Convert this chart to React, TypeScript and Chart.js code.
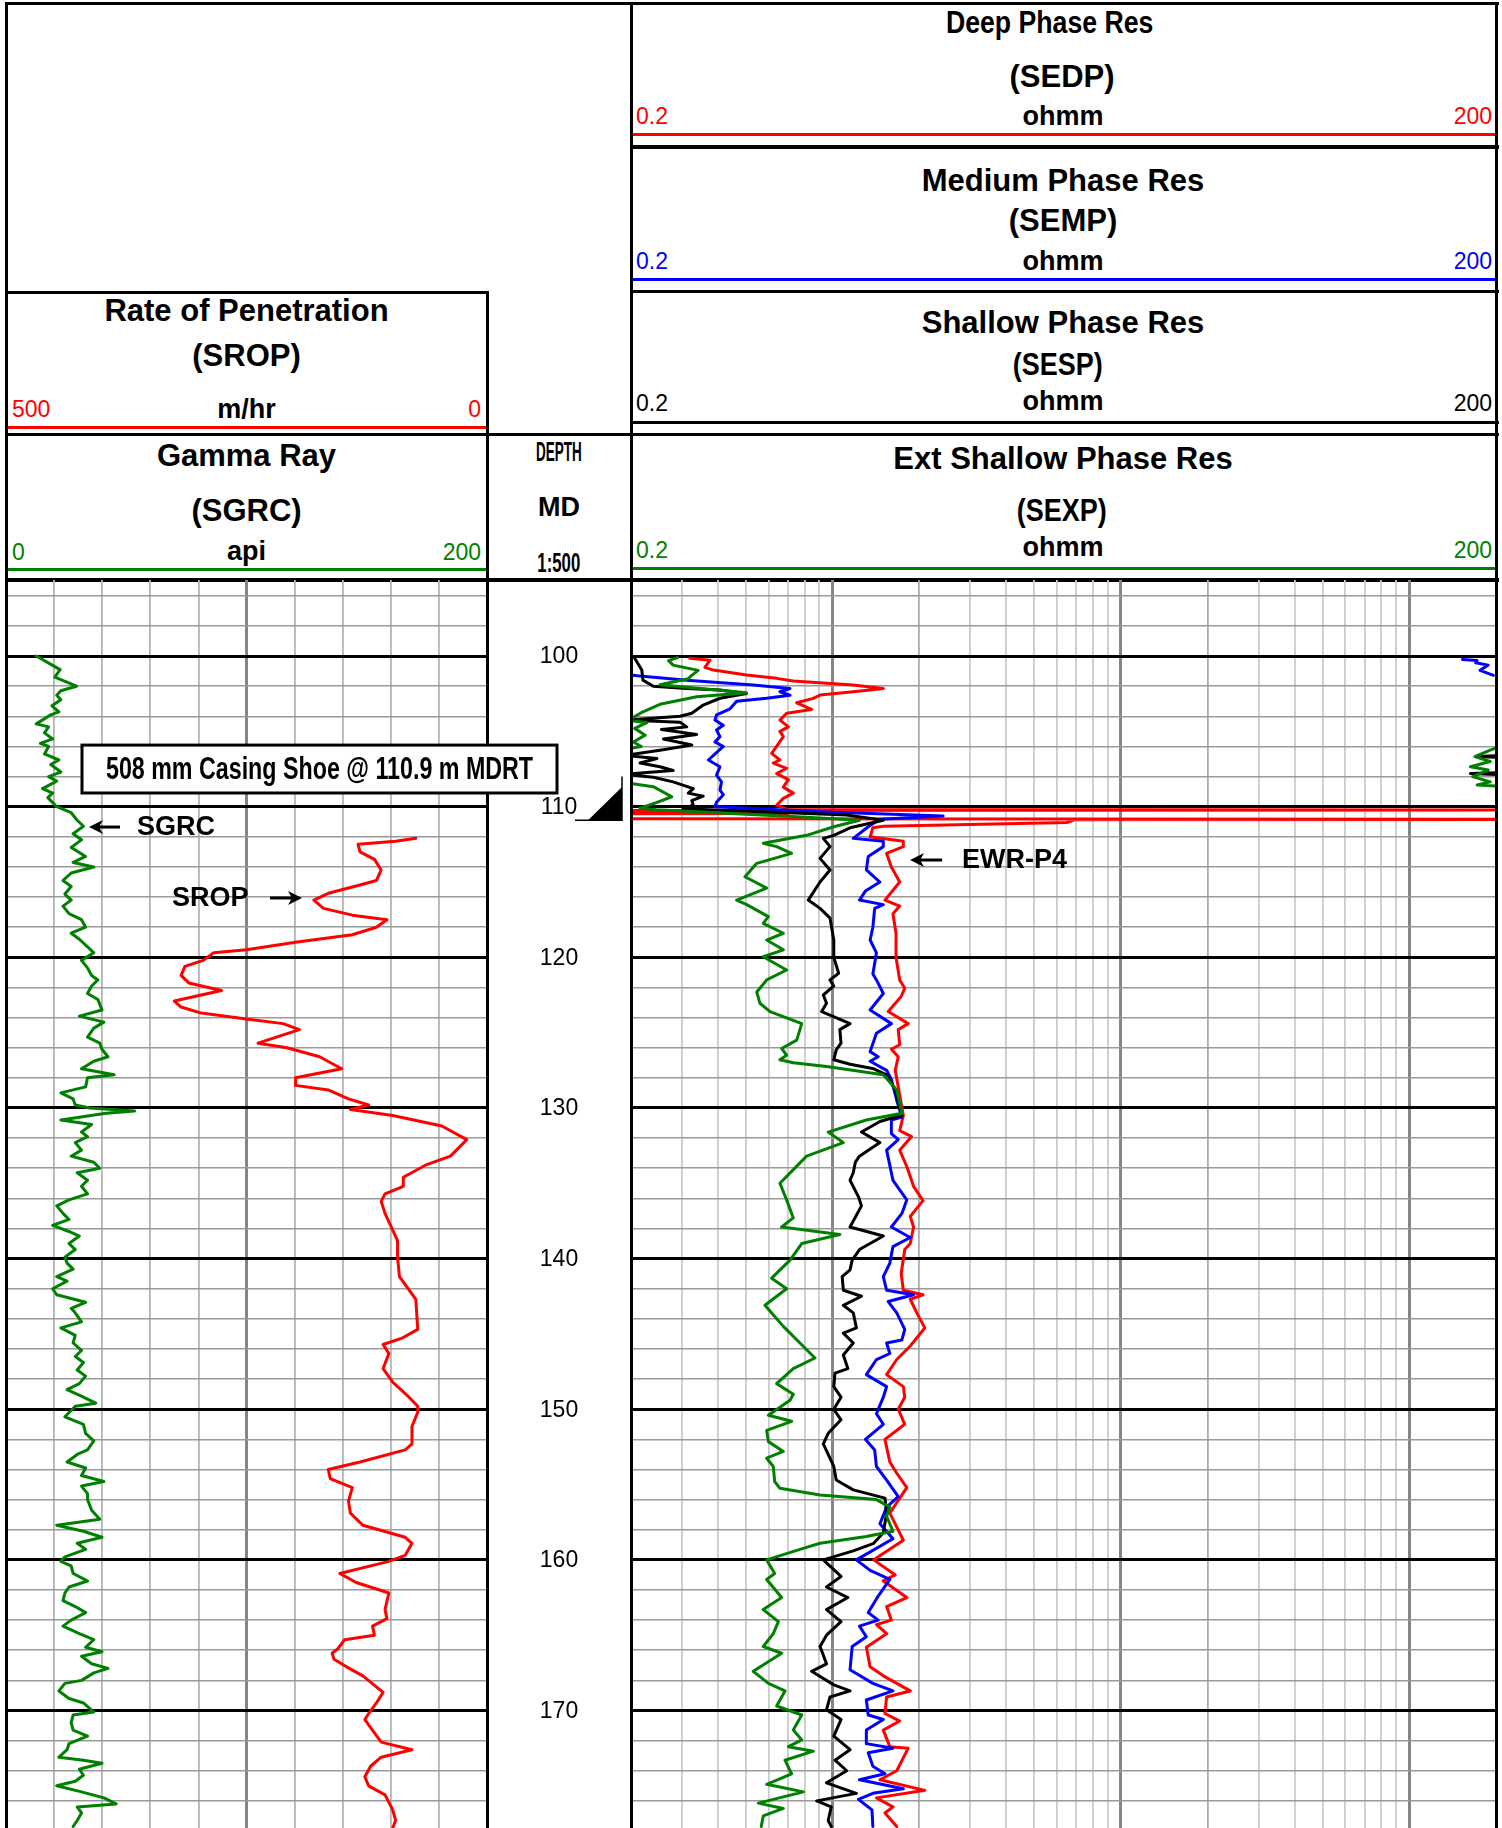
import React, { useEffect, useRef } from 'react';
import Chart from 'chart.js/auto';

const FONT = '"Liberation Sans", Arial, Helvetica, sans-serif';

type Pair = [number, number];

// ---- depth window / tick values ----
const depthTop = 94.95;
const depthBottom = 177.8;
const depthGrid = [96, 98, 100, 102, 104, 106, 108, 110, 112, 114, 116, 118, 120, 122, 124, 126, 128, 130, 132, 134, 136, 138, 140, 142, 144, 146, 148, 150, 152, 154, 156, 158, 160, 162, 164, 166, 168, 170, 172, 174, 176];
const depthLabels = [100, 110, 120, 130, 140, 150, 160, 170];
const gammaGrid = [0, 20, 40, 60, 80, 100, 120, 140, 160, 180, 200];
const resGrid = [0.2, 0.3, 0.4, 0.5, 0.6, 0.7, 0.8, 0.9, 1, 2, 3, 4, 5, 6, 7, 8, 9, 10, 20, 30, 40, 50, 60, 70, 80, 90, 100, 200];

// ---- curves: [depth m, value] ----
const gammaSGRC: Pair[] = [[100.0,12.6],[100.7,20.3],[100.9,22.5],[101.4,20.3],[102.0,29.3],[102.3,22.8],[102.6,21.1],[102.9,22.8],[103.3,19.1],[103.7,22.0],[103.9,18.6],[104.5,12.6],[104.7,17.7],[105.1,16.0],[105.5,19.4],[105.8,14.3],[106.0,17.7],[106.5,16.0],[106.9,22.0],[107.2,18.6],[107.7,22.8],[108.0,17.7],[108.3,21.1],[108.8,15.2],[109.1,19.4],[109.4,17.4],[110.0,21.1],[110.4,27.1],[110.9,29.6],[111.3,32.2],[111.8,27.9],[112.2,31.4],[112.7,27.1],[113.3,33.1],[113.7,27.9],[114.0,36.5],[114.4,27.1],[114.9,23.7],[115.3,27.1],[115.8,24.5],[116.2,27.1],[116.6,23.7],[117.1,26.2],[117.5,31.4],[118.0,33.1],[118.4,27.1],[118.8,30.5],[119.3,33.9],[119.7,36.5],[120.2,31.4],[120.7,33.9],[121.2,35.6],
[121.5,38.2],[121.9,35.6],[122.4,33.9],[122.8,38.2],[123.5,39.9],[123.9,30.5],[124.3,40.7],[124.7,36.5],[125.3,33.9],[125.7,39.0],[126.1,39.9],[126.6,42.4],[126.9,36.5],[127.4,31.4],[127.6,38.2],[127.8,45.0],[128.0,33.9],[128.6,33.1],[129.0,22.8],[129.4,27.9],[129.8,28.8],[130.0,34.8],[130.2,53.5],[130.35,41.6],[130.8,22.8],[131.1,35.6],[131.6,31.4],[131.9,33.9],[132.3,28.8],[132.8,31.4],[133.2,27.1],[133.6,36.5],[134.0,39.0],[134.3,29.6],[134.8,33.9],[135.2,31.4],[135.7,33.9],[136.1,26.2],[136.5,21.1],[137.0,23.7],[137.4,26.2],[137.8,19.4],[138.2,26.2],[138.5,30.5],[139.0,26.2],[139.4,28.8],[139.9,24.5],[140.3,25.4],[140.7,27.9],[141.2,21.1],[141.5,25.4],[142.0,19.4],[142.4,21.1],[142.9,33.1],[143.3,27.1],[143.6,28.8],[144.2,31.4],[144.6,22.8],[145.1,28.8],[145.6,27.9],[146.1,31.4],[146.5,28.8],[146.9,32.2],[147.4,29.6],[147.8,33.1],[148.3,30.5],[148.7,25.4],[149.2,32.2],[149.6,37.3],[149.8,28.8],
[150.5,24.5],[151.0,32.2],[151.6,33.1],[152.1,36.5],[152.7,33.9],[153.0,29.6],[153.5,25.4],[153.9,33.1],[154.4,31.4],[154.8,40.7],[155.1,31.4],[155.6,33.9],[156.0,33.9],[156.7,35.6],[157.3,39.0],[157.7,21.1],[158.1,32.2],[158.5,39.9],[158.9,29.6],[159.3,33.1],[159.8,24.5],[160.1,22.8],[160.4,27.1],[160.9,27.9],[161.4,33.9],[161.8,26.2],[162.2,24.5],[162.7,23.7],[163.1,28.8],[163.5,33.1],[164.0,27.1],[164.4,23.7],[164.9,30.5],[165.3,36.5],[165.8,33.1],[166.1,39.9],[166.4,31.4],[166.9,35.6],[167.2,42.4],[167.5,36.5],[168.0,31.4],[168.2,24.5],[168.7,22.0],[169.2,26.2],[169.5,32.2],[170.1,36.5],[170.3,27.9],[170.8,27.1],[171.3,27.9],[171.7,33.9],[172.2,26.2],[172.6,25.4],[173.1,22.0],[173.3,32.2],[173.5,39.9],[173.9,30.5],[174.3,32.2],[174.7,28.8],[175.0,21.1],[175.4,31.4],[175.8,40.7],[176.2,45.8],[176.4,29.6],[176.8,31.4],[177.3,29.6],[177.7,27.9]];

const ropSROP: Pair[] = [[112.1,74],[112.3,95],[112.5,134],[113.0,132],[113.5,117],[114.2,110],[114.9,115],[115.2,132],[115.75,165],[116.2,180],[116.75,170],[117.2,140],[117.5,104],[118.0,115],[118.5,140],[119.0,199],[119.5,250],[119.7,284],[120.2,295],[120.6,314],[121.2,318],[121.7,310],[122.2,276],[122.9,325],[123.3,318],[123.7,297],[124.1,250],[124.4,212],[124.8,195],[125.7,238],[126.0,208],[126.6,174],[127.4,151],[128.0,199],[128.5,199],[128.8,165],[129.4,144],[129.8,123],[130.1,142],[130.5,98],[131.2,47],[132.1,21],[133.2,38],[133.8,64],[134.6,87],[135.2,87],[135.7,106],[136.2,110],[137.0,106],[138.8,93],[139.9,93],[141.2,91],[142.7,74],[144.7,72],[145.3,89],[145.7,108],[146.3,102],[147.3,108],[148.2,98],[149.2,81],[149.8,72],[150.2,72],[151.15,78],[152.3,78],[152.7,85],[153.5,132],[154.0,165],[154.6,163],[155.2,140],[156.1,144],[156.9,142],[157.7,129],[158.5,85],[158.9,78],[159.7,85],[160.1,102],[160.9,153],[161.5,136],[162.2,102],[163.3,106],[163.9,104],[164.4,119],[165.0,117],[165.3,148],[165.9,155],[166.2,161],[166.6,159],[167.1,146],[167.7,129],[168.8,108],[169.5,115],[170.2,123],[170.6,127],[172.1,110],[172.6,78],[173.1,110],[173.7,121],[174.4,127],[175.0,123],[175.6,106],[176.6,98],[177.3,95],[177.8,98]];

const deepSEDP: Pair[] = [[100.15,0.32],[100.27,0.376],[100.75,0.361],[100.93,0.386],[101.26,0.503],[101.48,0.64],[101.66,0.731],[101.92,1.18],[102.15,1.5],[102.37,1.18],[102.59,0.905],[102.81,0.857],[103.1,0.751],[103.54,0.846],[103.8,0.693],[104.25,0.657],[104.7,0.703],[105.0,0.657],[105.35,0.675],[106.46,0.615],[106.9,0.657],[107.1,0.623],[107.45,0.693],[107.8,0.64],[108.2,0.703],[108.7,0.675],[109.1,0.731],[109.45,0.675],[109.9,0.64],[110.18,0.7],[110.22,400],[110.26,0.15],[110.43,0.15],[110.45,0.7],[110.47,0.15],[110.8,0.15],[110.84,400],[110.87,6.9],[111.05,6.5],[111.3,1.5],[111.4,1.38],[112.0,1.35],[112.3,1.76],[112.65,1.76],[113.1,1.54],[114.0,1.6],[115.0,1.71],[116.2,1.52],[116.6,1.71],[117.1,1.62],[118.4,1.66],[120.0,1.66],[121.5,1.71],[122.05,1.78],[122.6,1.73],[123.6,1.56],[124.4,1.83],[124.8,1.69],[125.8,1.71],[126.1,1.6],[126.6,1.69],[127.5,1.65],[128.6,1.69],[130.5,1.76],[131.5,1.71],[131.9,1.88],[132.8,1.71],[133.9,1.81],[135.2,1.91],[136.15,2.06],[137.2,1.86],[137.9,1.91],[139.0,1.86],[139.4,1.78],[141.0,1.73],[142.1,1.76],[142.4,2.06],[142.7,1.86],[143.6,1.96],[144.6,2.09],[145.8,1.86],[146.7,1.67],[147.7,1.54],[148.5,1.76],[149.2,1.78],[150.0,1.69],[151.0,1.78],[152.0,1.52],[153.5,1.58],[154.25,1.67],[155.2,1.81],[156.2,1.67],[156.9,1.58],[158.7,1.76],[160.0,1.39],[161.0,1.65],[161.4,1.5],[162.5,1.81],[163.1,1.54],[164.0,1.6],[164.3,1.42],[164.9,1.54],[165.8,1.31],[167.1,1.35],[167.7,1.5],[168.7,1.86],[169.1,1.54],[170.2,1.52],[170.7,1.71],[171.3,1.5],[172.4,1.58],[172.5,1.83],[174.0,1.67],[174.6,1.46],[175.3,2.09],[175.8,1.42],[176.4,1.62],[176.8,1.52],[177.7,1.67]];

const mediumSEMP: Pair[] = [[101.2,0.19],[101.3,0.21],[101.6,0.312],[101.92,0.531],[102.15,0.712],[102.37,0.657],[102.6,0.712],[102.8,0.591],[103.0,0.465],[103.5,0.441],[103.9,0.396],[104.25,0.391],[104.6,0.418],[104.9,0.396],[105.35,0.407],[105.7,0.391],[106.0,0.418],[106.9,0.371],[107.35,0.407],[107.9,0.396],[108.35,0.412],[108.9,0.407],[109.2,0.418],[109.7,0.396],[110.0,0.391],[110.33,0.905],[110.62,2.42],[110.84,1.46],[111.33,1.33],[112.1,1.18],[112.3,1.5],[112.65,1.5],[113.3,1.33],[114.2,1.31],[115.0,1.46],[115.6,1.30],[116.2,1.24],[116.5,1.5],[116.75,1.40],[118.0,1.38],[118.85,1.35],[119.7,1.42],[121.1,1.38],[121.5,1.42],[122.4,1.5],[123.5,1.35],[124.4,1.6],[125.04,1.42],[126.26,1.35],[126.6,1.44],[126.9,1.35],[127.5,1.54],[128.1,1.6],[129.5,1.67],[130.6,1.74],[130.8,1.6],[131.7,1.6],[132.1,1.69],[132.8,1.54],[134.8,1.62],[136.1,1.81],[137.0,1.74],[137.9,1.6],[138.6,1.86],[139.2,1.62],[140.3,1.58],[141.2,1.5],[142.1,1.54],[142.4,1.91],[142.85,1.56],[143.6,1.67],[144.7,1.78],[145.4,1.74],[145.6,1.54],[146.3,1.58],[146.7,1.42],[147.7,1.31],[148.5,1.54],[149.2,1.5],[150.3,1.42],[151.0,1.5],[152.0,1.30],[152.7,1.40],[153.8,1.42],[154.7,1.54],[155.8,1.69],[156.5,1.54],[157.6,1.46],[158.6,1.62],[160.0,1.21],[160.7,1.35],[161.3,1.58],[162.4,1.44],[163.5,1.33],[164.0,1.44],[164.4,1.24],[165.1,1.31],[165.75,1.17],[167.3,1.15],[168.2,1.38],[168.7,1.62],[169.3,1.31],[170.3,1.33],[170.6,1.5],[171.3,1.31],[172.2,1.31],[172.5,1.62],[172.8,1.33],[173.7,1.38],[174.2,1.52],[174.6,1.24],[175.2,1.76],[175.5,1.38],[175.9,1.23],[176.6,1.37],[177.7,1.38]];

const shallowSESP: Pair[] = [[100.15,0.206],[100.93,0.218],[101.6,0.22],[102.0,0.239],[102.15,0.312],[102.26,0.407],[102.48,0.503],[102.8,0.407],[103.25,0.356],[103.8,0.325],[104.0,0.296],[104.25,0.19],[104.4,0.296],[104.7,0.312],[104.87,0.255],[105.2,0.338],[105.5,0.259],[105.9,0.325],[106.25,0.252],[106.6,0.19],[106.8,0.246],[107.1,0.215],[107.35,0.252],[107.6,0.28],[107.85,0.19],[108.05,0.239],[108.35,0.28],[108.8,0.329],[109.1,0.316],[109.3,0.356],[109.6,0.325],[109.9,0.329],[110.13,0.303],[110.55,1.12],[110.9,1.5],[111.4,1.15],[111.9,1.01],[112.1,0.929],[112.65,0.98],[113.43,0.905],[114.2,0.98],[115.0,0.905],[116.2,0.824],[116.75,0.905],[117.4,0.98],[118.85,1.01],[120.0,1.01],[121.06,1.05],[121.5,0.98],[121.9,1.01],[122.5,0.929],[123.05,0.953],[123.6,0.917],[124.4,1.15],[124.8,1.06],[125.7,1.07],[126.15,1.03],[126.8,1.01],[127.1,1.15],[127.4,1.39],[127.8,1.54],[128.8,1.65],[130.5,1.74],[130.7,1.58],[130.9,1.46],[131.6,1.26],[132.3,1.46],[133.2,1.24],[133.6,1.2],[134.3,1.18],[134.8,1.15],[135.9,1.23],[136.5,1.26],[137.9,1.15],[138.5,1.5],[139.4,1.24],[140.1,1.17],[140.75,1.15],[141.2,1.08],[142.1,1.09],[142.5,1.26],[143.1,1.09],[143.6,1.18],[144.6,1.21],[144.95,1.09],[145.6,1.18],[146.4,1.09],[147.3,1.13],[147.6,1.02],[148.5,1.01],[149.2,1.07],[150.0,1.01],[150.7,1.07],[151.6,0.966],[152.3,0.929],[153.8,1.01],[154.7,1.03],[155.35,1.18],[155.9,1.52],[156.9,1.54],[158.2,1.5],[158.9,1.39],[159.4,1.18],[160.0,0.929],[161.1,1.07],[161.8,0.953],[162.5,1.13],[163.3,0.953],[164.1,1.07],[165.0,0.953],[165.75,0.905],[166.9,0.953],[167.4,0.846],[168.3,1.01],[168.7,1.15],[169.1,0.98],[169.95,0.953],[170.6,1.07],[171.7,1.01],[172.6,1.15],[173.3,1.02],[174.0,1.12],[174.8,0.953],[175.5,1.21],[176.0,0.881],[176.4,0.99],[177.3,0.966],[177.7,0.99]];

const extShallowSEXP: Pair[] = [[100.1,0.29],[100.3,0.27],[100.6,0.28],[100.95,0.342],[101.3,0.324],[101.5,0.316],[101.9,0.252],[102.43,0.503],[102.7,0.338],[103.2,0.252],[103.7,0.22],[104.07,0.204],[104.25,0.19],[104.42,0.227],[104.8,0.206],[105.25,0.224],[105.7,0.204],[106.0,0.217],[106.2,0.19],[108.4,0.19],[108.67,0.239],[109.34,0.277],[109.73,0.245],[110.1,0.215],[110.2,0.245],[110.7,0.813],[110.9,1.24],[111.33,1.01],[111.9,0.813],[112.43,0.575],[112.65,0.64],[113.1,0.721],[113.76,0.546],[114.65,0.497],[115.4,0.591],[116.2,0.465],[116.5,0.504],[117.3,0.599],[117.74,0.575],[118.4,0.675],[118.85,0.591],[119.5,0.675],[119.96,0.575],[120.84,0.693],[121.5,0.591],[122.3,0.546],[123.05,0.56],[123.6,0.607],[124.4,0.782],[125.5,0.751],[126.05,0.666],[126.5,0.693],[126.8,0.657],[127.0,0.731],[127.25,0.954],[127.8,1.5],[128.8,1.67],[130.35,1.74],[130.8,1.31],[131.6,0.966],[132.3,1.09],[133.2,0.813],[135.0,0.657],[136.1,0.693],[137.3,0.731],[137.9,0.666],[138.4,1.06],[139.0,0.782],[140.1,0.712],[141.3,0.615],[142.0,0.693],[143.1,0.583],[144.5,0.675],[145.6,0.771],[146.6,0.869],[147.3,0.731],[148.3,0.64],[149.0,0.731],[149.4,0.712],[150.4,0.599],[150.8,0.721],[151.4,0.591],[152.15,0.599],[152.8,0.675],[153.25,0.591],[153.8,0.623],[154.8,0.63],[155.25,0.657],[155.7,0.905],[156.0,1.42],[156.5,1.58],[157.1,1.54],[158.1,1.62],[158.45,1.31],[158.9,0.905],[159.3,0.771],[160.0,0.591],[160.9,0.63],[161.3,0.591],[162.5,0.666],[163.3,0.575],[164.1,0.649],[164.9,0.623],[165.75,0.575],[166.2,0.666],[167.4,0.531],[168.2,0.599],[168.7,0.684],[169.7,0.64],[170.3,0.782],[171.3,0.731],[171.95,0.782],[172.4,0.703],[172.7,0.858],[173.3,0.684],[174.2,0.721],[174.9,0.591],[175.4,0.792],[176.15,0.553],[176.5,0.675],[177.0,0.575],[177.7,0.566]];

// wrapped (backup-scale) segments at the right edge of the resistivity track
const mediumWrap: Pair[] = [[100.22,153],[100.3,172],[100.45,170],[100.6,188],[100.95,176],[101.28,196]];
const extShallowWrap: Pair[] = [[106.1,200],[106.24,191],[106.68,169],[107.0,191],[107.35,163],[107.57,188],[108.0,166],[108.35,191],[108.56,172],[108.62,200]];
const shallowWrap: (Pair | null)[] = [[106.62,200],[106.67,171],[106.72,200],null,[107.75,200],[107.8,163],[107.86,200]];

const toPts = (arr: (Pair | null)[]) => arr.map(p => (p ? { x: p[1], y: p[0] } : { x: null as any, y: null as any }));

const lineDs = (label: string, data: (Pair | null)[], color: string, xAxisID: string) => ({
  label, data: toPts(data), xAxisID, yAxisID: 'y', borderColor: color, backgroundColor: color,
  borderWidth: 3, showLine: true, pointRadius: 0, pointHoverRadius: 0, fill: false, tension: 0,
  borderJoinStyle: 'round' as const, borderCapStyle: 'round' as const, spanGaps: false,
});

function arrow(ctx: CanvasRenderingContext2D, tail: number, head: number, y: number) {
  const d = Math.sign(head - tail);
  ctx.save();
  ctx.strokeStyle = '#000';
  ctx.fillStyle = '#000';
  ctx.lineWidth = 3;
  ctx.beginPath();
  ctx.moveTo(tail, y);
  ctx.lineTo(head - d * 8, y);
  ctx.stroke();
  ctx.beginPath();
  ctx.moveTo(head, y);
  ctx.lineTo(head - d * 14, y - 7);
  ctx.lineTo(head - d * 10, y);
  ctx.lineTo(head - d * 14, y + 7);
  ctx.closePath();
  ctx.fill();
  ctx.restore();
}

function depthScale(extra: any) {
  return {
    type: 'linear', min: depthTop, max: depthBottom, reverse: true,
    afterBuildTicks: (s: any) => { s.ticks = depthGrid.map(v => ({ value: v })); },
    afterFit: (s: any) => { s.width = 0; },
    ticks: { display: false, autoSkip: false },
    grid: {
      drawTicks: false,
      color: (c: any) => (c.tick && c.tick.value % 10 === 0 ? '#000000' : '#9a9a9a'),
      lineWidth: (c: any) => (c.tick && c.tick.value % 10 === 0 ? 3 : 1.6),
    },
    border: { display: false },
    ...extra,
  };
}

const LeftTrack: React.FC = () => {
  const ref = useRef<HTMLCanvasElement>(null);
  useEffect(() => {
    const decor = {
      id: 'leftDecor',
      afterDraw(chart: any) {
        const ctx = chart.ctx as CanvasRenderingContext2D;
        const h = chart.height;
        const gx = chart.scales.xGR, rx = chart.scales.xROP, y = chart.scales.y;
        ctx.save();
        ctx.fillStyle = '#000';
        ctx.fillRect(5, 0, 3, h);
        ctx.fillRect(486, 0, 3, h);
        ctx.fillRect(630, 0, 3, h);
        // depth labels in the depth track
        ctx.font = `23px ${FONT}`;
        ctx.textAlign = 'center';
        ctx.textBaseline = 'middle';
        depthLabels.forEach(v => ctx.fillText(String(v), 559, y.getPixelForValue(v) + 1));
        // SGRC label
        const yG = y.getPixelForValue(111.35);
        arrow(ctx, gx.getPixelForValue(47.4), gx.getPixelForValue(34.5), yG);
        ctx.font = `bold 27px ${FONT}`;
        ctx.textAlign = 'left';
        ctx.fillText('SGRC', gx.getPixelForValue(54.5), yG + 1);
        // SROP label
        const yR = y.getPixelForValue(116.06);
        ctx.textAlign = 'right';
        ctx.fillText('SROP', rx.getPixelForValue(248), yR + 1);
        arrow(ctx, rx.getPixelForValue(225.6), rx.getPixelForValue(192.3), yR);
        // casing shoe box
        const bt = y.getPixelForValue(105.91), bb = y.getPixelForValue(109.09);
        ctx.fillStyle = '#fff';
        ctx.fillRect(82, bt, 475, bb - bt);
        ctx.strokeStyle = '#000';
        ctx.lineWidth = 3;
        ctx.strokeRect(82, bt, 475, bb - bt);
        ctx.fillStyle = '#000';
        ctx.save();
        ctx.translate(319.5, (bt + bb) / 2 + 1);
        ctx.scale(0.75, 1);
        ctx.font = `bold 31px ${FONT}`;
        ctx.textAlign = 'center';
        ctx.textBaseline = 'middle';
        ctx.fillText('508 mm Casing Shoe @ 110.9 m MDRT', 0, 0);
        ctx.restore();
        // casing shoe marker
        const yS = y.getPixelForValue(110.9);
        ctx.lineWidth = 1.5;
        ctx.beginPath();
        ctx.moveTo(622, y.getPixelForValue(108.0));
        ctx.lineTo(622, yS);
        ctx.lineTo(575, yS);
        ctx.stroke();
        ctx.beginPath();
        ctx.moveTo(588, yS);
        ctx.lineTo(622, y.getPixelForValue(108.7));
        ctx.lineTo(622, yS);
        ctx.closePath();
        ctx.fill();
        ctx.restore();
      },
    };
    const chart = new Chart(ref.current as HTMLCanvasElement, {
      type: 'scatter',
      data: {
        datasets: [
          lineDs('SGRC', gammaSGRC, '#008000', 'xGR'),
          lineDs('SROP', ropSROP, '#ff0000', 'xROP'),
        ] as any,
      },
      options: {
        animation: false, responsive: false, maintainAspectRatio: false, events: [],
        layout: { padding: { left: 6, right: 147, top: 0, bottom: 0 }, autoPadding: false } as any,
        plugins: { legend: { display: false }, tooltip: { enabled: false } },
        scales: {
          xGR: {
            type: 'linear', position: 'bottom', min: 0, max: 200,
            afterBuildTicks: (s: any) => { s.ticks = gammaGrid.map(v => ({ value: v })); },
            afterFit: (s: any) => { s.height = 0; },
            ticks: { display: false },
            grid: {
              drawTicks: false,
              color: (c: any) => (c.tick && (c.tick.value === 0 || c.tick.value === 200) ? 'rgba(0,0,0,0)' : c.tick && c.tick.value === 100 ? '#858585' : '#b4b4b4'),
              lineWidth: (c: any) => (c.tick && c.tick.value === 100 ? 3 : 1.8),
            },
            border: { display: false },
          },
          xROP: { type: 'linear', display: false, min: 0, max: 500, reverse: true },
          y: depthScale({ position: 'right' }),
        } as any,
      },
      plugins: [decor],
    });
    return () => chart.destroy();
  }, []);
  return <canvas ref={ref} width={634} height={1248} style={{ position: 'absolute', left: 0, top: 580, width: 634, height: 1248 }} />;
};

const RightTrack: React.FC = () => {
  const ref = useRef<HTMLCanvasElement>(null);
  useEffect(() => {
    const decor = {
      id: 'rightDecor',
      afterDraw(chart: any) {
        const ctx = chart.ctx as CanvasRenderingContext2D;
        const h = chart.height;
        const x = chart.scales.x, y = chart.scales.y;
        ctx.save();
        ctx.fillStyle = '#000';
        ctx.fillRect(10, 0, 3, h);
        ctx.fillRect(875, 0, 3, h);
        const yE = y.getPixelForValue(113.54);
        arrow(ctx, x.getPixelForValue(2.4), x.getPixelForValue(1.857), yE);
        ctx.font = `bold 27px ${FONT}`;
        ctx.textAlign = 'left';
        ctx.textBaseline = 'middle';
        ctx.fillText('EWR-P4', x.getPixelForValue(2.81), yE + 1);
        ctx.restore();
      },
    };
    const leading = (v: number) => Math.round(v / Math.pow(10, Math.floor(Math.log10(v) + 1e-9)));
    const chart = new Chart(ref.current as HTMLCanvasElement, {
      type: 'scatter',
      data: {
        datasets: [
          lineDs('SEXP', extShallowSEXP, '#008000', 'x'),
          lineDs('SEXP wrap', extShallowWrap, '#008000', 'x'),
          lineDs('SESP', shallowSESP, '#000000', 'x'),
          lineDs('SESP wrap', shallowWrap, '#000000', 'x'),
          lineDs('SEMP', mediumSEMP, '#0000ff', 'x'),
          lineDs('SEMP wrap', mediumWrap, '#0000ff', 'x'),
          lineDs('SEDP', deepSEDP, '#ff0000', 'x'),
        ] as any,
      },
      options: {
        animation: false, responsive: false, maintainAspectRatio: false, events: [],
        layout: { padding: { left: 11, right: 6, top: 0, bottom: 0 }, autoPadding: false } as any,
        plugins: { legend: { display: false }, tooltip: { enabled: false } },
        scales: {
          x: {
            type: 'logarithmic', position: 'bottom', min: 0.2, max: 200,
            afterBuildTicks: (s: any) => { s.ticks = resGrid.map(v => ({ value: v })); },
            afterFit: (s: any) => { s.height = 0; },
            ticks: { display: false },
            grid: {
              drawTicks: false,
              color: (c: any) => {
                const v = c.tick ? c.tick.value : 0;
                if (v === 0.2 || v === 200) return 'rgba(0,0,0,0)';
                if (v === 1 || v === 10 || v === 100) return '#858585';
                return leading(v) === 2 ? '#ababab' : '#cbcbcb';
              },
              lineWidth: (c: any) => {
                const v = c.tick ? c.tick.value : 0;
                return v === 1 || v === 10 || v === 100 ? 3 : 1.8;
              },
            },
            border: { display: false },
          },
          y: depthScale({ position: 'left' }),
        } as any,
      },
      plugins: [decor],
    });
    return () => chart.destroy();
  }, []);
  return <canvas ref={ref} width={882} height={1248} style={{ position: 'absolute', left: 620, top: 580, width: 882, height: 1248 }} />;
};

const HL: React.FC<{ x1: number; x2: number; y: number; h?: number; c?: string }> = ({ x1, x2, y, h = 3, c = '#000' }) => (
  <div style={{ position: 'absolute', left: x1, top: y, width: x2 - x1, height: h, background: c }} />
);
const VL: React.FC<{ x: number; y1: number; y2: number; w?: number }> = ({ x, y1, y2, w = 3 }) => (
  <div style={{ position: 'absolute', left: x, top: y1, width: w, height: y2 - y1, background: '#000' }} />
);
const T: React.FC<{ x: number; y: number; align?: 'left' | 'center' | 'right'; size?: number; bold?: boolean; color?: string; sx?: number; children: React.ReactNode }> = ({ x, y, align = 'center', size = 31, bold = true, color = '#000', sx = 1, children }) => {
  const lh = Math.round(size * 1.2);
  const W = 700;
  const left = align === 'center' ? x - W / 2 : align === 'left' ? x : x - W;
  const origin = align === 'center' ? '50% 50%' : align === 'left' ? '0% 50%' : '100% 50%';
  return (
    <div style={{ position: 'absolute', left, top: y - lh / 2, width: W, height: lh, lineHeight: `${lh}px`, textAlign: align, fontFamily: FONT, fontSize: size, fontWeight: bold ? 700 : 400, color, whiteSpace: 'nowrap' }}>
      <span style={{ display: 'inline-block', transform: `scaleX(${sx})`, transformOrigin: origin }}>{children}</span>
    </div>
  );
};

const Header: React.FC = () => {
  const R = 1063;
  const L = 246.5;
  const D = 559;
  return (
    <>
      <div style={{ position: 'absolute', left: 0, top: 0, width: 1502, height: 580, background: '#fff' }} />
      <HL x1={5} x2={1499} y={2} />
      <VL x={5} y1={2} y2={582} />
      <VL x={630} y1={2} y2={582} />
      <VL x={1495} y1={2} y2={582} />
      <VL x={486} y1={291} y2={582} />
      {/* Deep */}
      <T x={1050} y={22} sx={0.86}>Deep Phase Res</T>
      <T x={1062} y={76}>(SEDP)</T>
      <T x={636} y={116} align="left" size={23} bold={false} color="#ff0000">0.2</T>
      <T x={R} y={116} size={27}>ohmm</T>
      <T x={1492} y={116} align="right" size={23} bold={false} color="#ff0000">200</T>
      <HL x1={633} x2={1495} y={133} c="#ff0000" />
      <HL x1={630} x2={1499} y={145} h={4} />
      {/* Medium */}
      <T x={R} y={180}>Medium Phase Res</T>
      <T x={R} y={220}>(SEMP)</T>
      <T x={636} y={261} align="left" size={23} bold={false} color="#0000ff">0.2</T>
      <T x={R} y={261} size={27}>ohmm</T>
      <T x={1492} y={261} align="right" size={23} bold={false} color="#0000ff">200</T>
      <HL x1={633} x2={1495} y={278} c="#0000ff" />
      <HL x1={630} x2={1499} y={290} />
      {/* Shallow */}
      <T x={R} y={322}>Shallow Phase Res</T>
      <T x={1058} y={364} sx={0.87}>(SESP)</T>
      <T x={636} y={403} align="left" size={23} bold={false}>0.2</T>
      <T x={R} y={401} size={27}>ohmm</T>
      <T x={1492} y={403} align="right" size={23} bold={false}>200</T>
      <HL x1={630} x2={1499} y={421} />
      {/* ROP */}
      <HL x1={5} x2={489} y={291} />
      <T x={L} y={310}>Rate of Penetration</T>
      <T x={L} y={355}>(SROP)</T>
      <T x={12} y={409} align="left" size={23} bold={false} color="#ff0000">500</T>
      <T x={L} y={409} size={27}>m/hr</T>
      <T x={481} y={409} align="right" size={23} bold={false} color="#ff0000">0</T>
      <HL x1={8} x2={486} y={426} c="#ff0000" />
      <HL x1={5} x2={1499} y={433} />
      {/* Gamma */}
      <T x={L} y={455}>Gamma Ray</T>
      <T x={L} y={510}>(SGRC)</T>
      <T x={12} y={552} align="left" size={23} bold={false} color="#008000">0</T>
      <T x={L} y={551} size={27}>api</T>
      <T x={481} y={552} align="right" size={23} bold={false} color="#008000">200</T>
      <HL x1={8} x2={486} y={568} c="#008000" />
      {/* Depth */}
      <T x={D} y={452} size={27} sx={0.5}>DEPTH</T>
      <T x={D} y={507} size={27}>MD</T>
      <T x={D} y={563} size={28} sx={0.6}>1:500</T>
      {/* Ext shallow */}
      <T x={R} y={458}>Ext Shallow Phase Res</T>
      <T x={1062} y={510} sx={0.87}>(SEXP)</T>
      <T x={636} y={550} align="left" size={23} bold={false} color="#008000">0.2</T>
      <T x={R} y={547} size={27}>ohmm</T>
      <T x={1492} y={550} align="right" size={23} bold={false} color="#008000">200</T>
      <HL x1={633} x2={1495} y={567} c="#008000" />
      <HL x1={5} x2={1499} y={578} h={4} />
    </>
  );
};

export default function App() {
  useEffect(() => {
    document.body.style.margin = '0';
    document.body.style.background = '#fff';
  }, []);
  return (
    <div style={{ position: 'relative', width: 1502, height: 1828, overflow: 'hidden', background: '#fff' }}>
      <Header />
      <LeftTrack />
      <RightTrack />
    </div>
  );
}
